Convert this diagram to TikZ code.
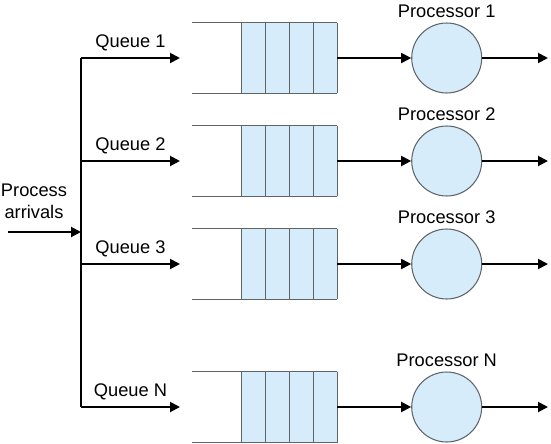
\documentclass[tikz,border=0pt]{standalone}
\usepackage{fontspec}
\setmainfont{Liberation Sans}
\usetikzlibrary{arrows.meta, positioning, calc}
\definecolor{celfill}{RGB}{214,236,250}
\definecolor{celdraw}{RGB}{95,100,105}

\begin{document}
\begin{tikzpicture}[
            x=0.02cm, y=-0.02cm,
            font=\fontsize{10.4}{12.5}\selectfont,
            arr/.style={-{Triangle[length=0.2cm, width=0.2cm]}, line width=1.1pt},
            qline/.style={draw=celdraw, line width=0.75pt},
            cellblock/.style={minimum width=1.92cm, minimum height=1.42cm, inner sep=0pt, outer sep=0pt},
            proc/.style={circle, draw=celdraw, fill=celfill, line width=0.6pt, minimum size=1.4cm, inner sep=0pt},
            plabel/.style={label distance=-1pt}
        ]
            \useasboundingbox (0,0) rectangle (551,443);
            % Arrivals
            \node[align=center] (arrivals) at (34,201) {Process\\arrivals};
            \coordinate (src) at (8,232);
            \coordinate (jA) at (81,232);
            \coordinate (j1) at (81,58);
            \coordinate (jN) at (81,407);
            \draw[line width=1.1pt] (j1) -- (jN);
            \draw[arr] (src) -- (jA);
            % Queues and processors
            \foreach \n/\y in {1/58, 2/161, 3/264, N/407} {
                \coordinate (b\n) at (81,\y);
                \coordinate (in\n) at (180,\y);
                \node[cellblock] (q\n) at (289.5,\y) {};
                \fill[celfill] (q\n.north west) rectangle (q\n.south east);
                \foreach \k in {0,1,2,3,4}
                    \draw[qline] ($(q\n.north west)!\k/4!(q\n.north east)$) -- ($(q\n.south west)!\k/4!(q\n.south east)$);
                \draw[qline] (q\n.north east) -- ++(-145,0);
                \draw[qline] (q\n.south east) -- ++(-145,0);
                \node[proc, label={[plabel]above:Processor \n}] (p\n) at (446.7,\y) {};
                \coordinate (out\n) at (548,\y);
                \draw[arr] (b\n) -- (in\n) node[midway, above] {Queue \n};
                \draw[arr] (q\n.east) -- (p\n);
                \draw[arr] (p\n) -- (out\n);
            }
        \end{tikzpicture}
\end{document}
